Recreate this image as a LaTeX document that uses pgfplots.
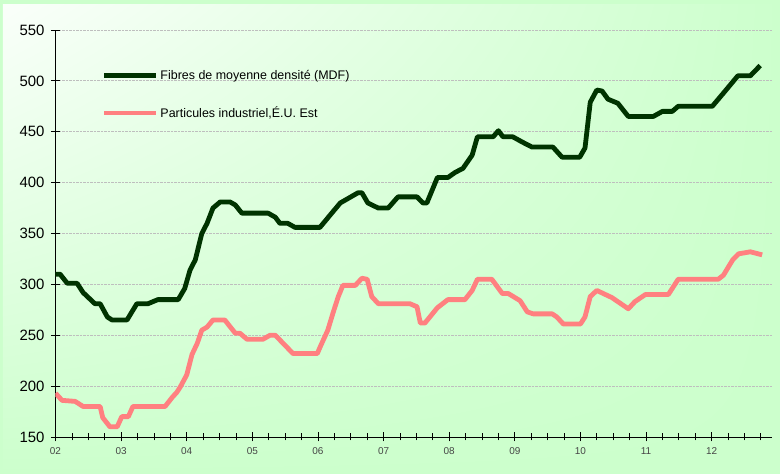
\documentclass[border=0pt]{standalone}
\usepackage{fontspec}
\setmainfont{Liberation Sans}
\usepackage{pgfplots}
\pgfplotsset{compat=1.18}
\usetikzlibrary{backgrounds,calc,shadings}
\definecolor{bggreen}{RGB}{204,255,204}
\definecolor{bglight}{RGB}{250,255,250}
\definecolor{mdf}{RGB}{0,51,0}
\definecolor{part}{RGB}{255,128,128}
\definecolor{gridgray}{RGB}{190,190,190}
\definecolor{xlab}{RGB}{70,70,70}
\begin{document}
\begin{tikzpicture}
\begin{axis}[
  scale only axis, width=716.5bp, height=407bp,
  xmin=2, xmax=12.92, ymin=150, ymax=550,
  axis x line=bottom, axis y line=left,
  axis line style={-, black, line width=0.8bp},
  xtick={2,3,4,5,6,7,8,9,10,11,12},
  xticklabels={02,03,04,05,06,07,08,09,10,11,12},
  minor xtick={2.25,2.5,...,12.8},
  ytick={150,200,...,550},
  ymajorgrids, grid style={gridgray, dash pattern=on 2.5bp off 1bp, line width=0.9bp},
  tick align=center, major tick length=9bp, minor tick length=7bp,
  tick style={black, line width=0.8bp},
  /pgf/number format/assume math mode=true,
  yticklabel style={font=\fontsize{15}{17}\selectfont, xshift=-3bp},
  xticklabel style={font=\fontsize{10}{11}\selectfont, text=xlab, yshift=-3bp},
  legend style={at={(rel axis cs:0,1)}, anchor=north west, xshift=46bp, yshift=-38bp,
    draw=none, fill=none, font=\fontsize{12.5}{14}\selectfont, row sep=22bp, inner sep=0pt,
    cells={anchor=west}},
  legend image code/.code={\draw[#1] (0bp,0bp) -- (52bp,0bp);},
  line join=round,
]
\addplot[mdf, line width=4.8bp] table {
2.00 310
2.07 310
2.18 301
2.33 301
2.42 292
2.60 281
2.68 281
2.79 268
2.86 265
3.09 265
3.24 281
3.41 281
3.56 285
3.87 285
3.97 296
4.05 314
4.13 324
4.23 350
4.31 360
4.40 375
4.51 381
4.66 381
4.74 378
4.84 370
5.24 370
5.35 366
5.42 360
5.54 360
5.65 356
6.03 356
6.21 370
6.34 380
6.61 390
6.67 390
6.76 380
6.92 375
7.07 375
7.22 386
7.51 386
7.60 380
7.66 380
7.82 405
7.98 405
8.09 410
8.21 414
8.35 427
8.43 445
8.67 445
8.75 451
8.82 445
8.97 445
9.11 440
9.26 435
9.58 435
9.72 425
9.99 425
10.07 434
10.15 479
10.25 491
10.33 490
10.42 482
10.57 478
10.73 465
11.11 465
11.25 470
11.40 470
11.49 475
12.01 475
12.18 488
12.40 505
12.59 505
12.74 515
};
\addlegendentry{Fibres de moyenne densité (MDF)}
\addplot[part, line width=4.8bp] table {
2.00 193
2.10 186
2.30 185
2.42 180
2.68 180
2.72 169
2.83 160
2.94 160
3.01 170
3.11 170
3.18 180
3.67 180
3.78 189
3.85 194
3.90 199
4.00 211
4.08 231
4.16 242
4.23 255
4.31 258
4.40 265
4.58 265
4.74 252
4.81 252
4.92 246
5.16 246
5.27 250
5.35 250
5.47 242
5.62 232
5.99 232
6.03 238
6.15 255
6.23 272
6.31 288
6.38 299
6.57 299
6.67 306
6.75 305
6.82 288
6.92 281
7.40 281
7.51 278
7.56 262
7.63 262
7.82 277
7.98 285
8.24 285
8.35 294
8.43 305
8.65 305
8.81 291
8.90 291
9.08 284
9.19 273
9.28 271
9.57 271
9.64 268
9.74 261
10.00 261
10.07 268
10.15 288
10.25 294
10.48 287
10.73 276
10.83 283
10.99 290
11.34 290
11.49 305
12.10 305
12.18 309
12.32 324
12.41 330
12.59 332
12.77 329
};
\addlegendentry{Particules industriel,É.U. Est}
\end{axis}
\begin{scope}[on background layer]
  \fill[bggreen] ($(current axis.south west)+(-55.5bp,-37bp)$) rectangle ($(current axis.north east)+(8bp,30bp)$);
  \shade[upper left=bglight, upper right=bggreen, lower left=bggreen, lower right=bggreen]
    ($(current axis.south west)+(-52.5bp,-37bp)$) rectangle ($(current axis.north east)+(8bp,25bp)$);
\end{scope}
\end{tikzpicture}
\end{document}
